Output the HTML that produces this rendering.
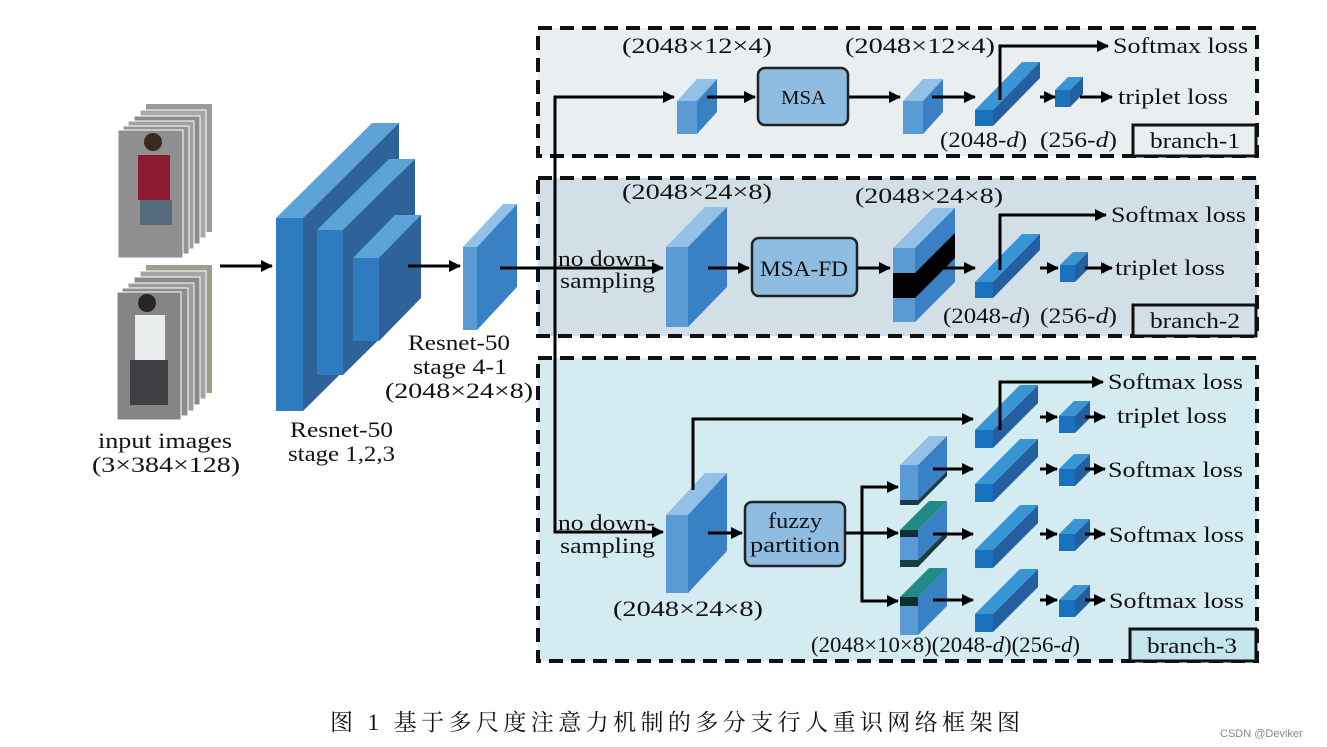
<!DOCTYPE html>
<html><head><meta charset="utf-8"><style>
html,body{margin:0;padding:0;background:#fff;}
svg{display:block;}
text{font-family:"Liberation Serif","Noto Serif CJK SC",serif;fill:#111;}
</style></head><body>
<svg id="s" width="1327" height="747" viewBox="0 0 1327 747" xmlns="http://www.w3.org/2000/svg">
<defs>
<marker id="a" markerWidth="12" markerHeight="12" refX="11" refY="6" orient="auto" markerUnits="userSpaceOnUse"><path d="M0,0 L12,6 L0,12 z" fill="#000"/></marker>
</defs>
<rect x="538" y="28" width="719" height="128" fill="#e9eef1" stroke="#111" stroke-width="4" stroke-dasharray="14,8"/>
<rect x="538" y="178" width="719" height="158" fill="#d3dfe7" stroke="#111" stroke-width="4" stroke-dasharray="14,8"/>
<rect x="538" y="358" width="719" height="303" fill="#d3ebf1" stroke="#111" stroke-width="4" stroke-dasharray="14,8"/>
<rect x="1133" y="125" width="123" height="31" fill="#e9eef1" stroke="#111" stroke-width="3"/>
<rect x="1133" y="305" width="123" height="31" fill="#d3dfe7" stroke="#111" stroke-width="3"/>
<rect x="1130" y="629" width="126" height="32" fill="#c4e5ee" stroke="#111" stroke-width="3"/>
<g font-size="22" lengthAdjust="spacingAndGlyphs">
<text x="1150" y="148" textLength="90" lengthAdjust="spacingAndGlyphs">branch-1</text>
<text x="1150" y="328" textLength="90" lengthAdjust="spacingAndGlyphs">branch-2</text>
<text x="1147" y="653" textLength="90" lengthAdjust="spacingAndGlyphs">branch-3</text>
</g>

<g id="imgs">
<rect x="146" y="104" width="66" height="128" fill="#9a9a9a"/>
<rect x="140" y="110" width="66" height="128" fill="#a8a8a8" stroke="#fff"/>
<rect x="134" y="116" width="66" height="128" fill="#8c8c8c" stroke="#fff"/>
<rect x="128" y="121" width="66" height="128" fill="#a0a0a0" stroke="#fff"/>
<rect x="123" y="126" width="66" height="128" fill="#959595" stroke="#fff"/>
<rect x="118" y="130" width="65" height="128" fill="#8f8f8f" stroke="#fff"/>
<rect x="138" y="155" width="32" height="45" fill="#8b1a2e"/>
<rect x="140" y="200" width="32" height="25" fill="#556a7c"/>
<circle cx="153" cy="142" r="9" fill="#3a2a22"/>
<rect x="146" y="265" width="66" height="128" fill="#9aa08a"/>
<rect x="140" y="271" width="66" height="128" fill="#a5a5a5" stroke="#fff"/>
<rect x="134" y="277" width="66" height="128" fill="#8a8a8a" stroke="#fff"/>
<rect x="128" y="283" width="66" height="128" fill="#9c9c9c" stroke="#fff"/>
<rect x="122" y="288" width="66" height="128" fill="#8d8d8d" stroke="#fff"/>
<rect x="117" y="292" width="64" height="128" fill="#858585" stroke="#fff"/>
<rect x="135" y="315" width="30" height="45" fill="#e8ecec"/>
<rect x="130" y="360" width="38" height="45" fill="#3f3f44"/>
<circle cx="147" cy="303" r="9" fill="#2a2424"/>
</g>

<g id="cubes"></g>

<g stroke="#000" stroke-width="3" fill="none">
<line x1="220" y1="266" x2="272" y2="266" marker-end="url(#a)"/>
<line x1="408" y1="266" x2="460" y2="266" marker-end="url(#a)"/>
<line x1="500" y1="268" x2="663" y2="268" marker-end="url(#a)"/>
<polyline points="555,268 555,97 674,97" marker-end="url(#a)"/>
<polyline points="555,268 555,532 663,532" marker-end="url(#a)"/>
<line x1="707" y1="97" x2="755" y2="97" marker-end="url(#a)"/>
<line x1="848" y1="97" x2="900" y2="97" marker-end="url(#a)"/>
<line x1="932" y1="97" x2="975" y2="97" marker-end="url(#a)"/>
<line x1="1040" y1="97" x2="1055" y2="97" marker-end="url(#a)"/>
<line x1="1080" y1="97" x2="1112" y2="97" marker-end="url(#a)"/>
<polyline points="1000,100 1000,46 1108,46" marker-end="url(#a)"/>
<line x1="708" y1="268" x2="749" y2="268" marker-end="url(#a)"/>
<line x1="857" y1="268" x2="890" y2="268" marker-end="url(#a)"/>
<line x1="930" y1="268" x2="975" y2="268" marker-end="url(#a)"/>
<line x1="1040" y1="268" x2="1058" y2="268" marker-end="url(#a)"/>
<line x1="1085" y1="268" x2="1112" y2="268" marker-end="url(#a)"/>
<polyline points="1000,270 1000,215 1106,215" marker-end="url(#a)"/>
<line x1="708" y1="533" x2="742" y2="533" marker-end="url(#a)"/>
<line x1="845" y1="533" x2="898" y2="533" marker-end="url(#a)"/>
<polyline points="862,533 862,487 898,487" marker-end="url(#a)"/>
<polyline points="862,533 862,601 898,601" marker-end="url(#a)"/>
<polyline points="693,490 693,419 973,419" marker-end="url(#a)"/>
<polyline points="1000,430 1000,382 1103,382" marker-end="url(#a)"/>
<line x1="1040" y1="417" x2="1057" y2="417" marker-end="url(#a)"/>
<line x1="1085" y1="417" x2="1105" y2="417" marker-end="url(#a)"/>
<line x1="933" y1="469" x2="973" y2="469" marker-end="url(#a)"/>
<line x1="1040" y1="469" x2="1057" y2="469" marker-end="url(#a)"/>
<line x1="1085" y1="469" x2="1105" y2="469" marker-end="url(#a)"/>
<line x1="933" y1="534" x2="973" y2="534" marker-end="url(#a)"/>
<line x1="1040" y1="534" x2="1057" y2="534" marker-end="url(#a)"/>
<line x1="1085" y1="534" x2="1105" y2="534" marker-end="url(#a)"/>
<line x1="933" y1="600" x2="973" y2="600" marker-end="url(#a)"/>
<line x1="1040" y1="600" x2="1057" y2="600" marker-end="url(#a)"/>
<line x1="1085" y1="600" x2="1105" y2="600" marker-end="url(#a)"/>
</g>

<rect x="758" y="68" width="90" height="57" rx="7" fill="#8fbde2" stroke="#222" stroke-width="2.5"/>
<rect x="752" y="238" width="105" height="58" rx="7" fill="#8fbde2" stroke="#222" stroke-width="2.5"/>
<rect x="745" y="502" width="100" height="64" rx="7" fill="#8fbde2" stroke="#222" stroke-width="2.5"/>

<g font-size="22">
<text x="781" y="104" textLength="45" lengthAdjust="spacingAndGlyphs" font-size="20">MSA</text>
<text x="760" y="276" textLength="88" lengthAdjust="spacingAndGlyphs">MSA-FD</text>
<text x="768" y="528" textLength="54" lengthAdjust="spacingAndGlyphs">fuzzy</text>
<text x="750" y="552" textLength="90" lengthAdjust="spacingAndGlyphs">partition</text>

<text x="98" y="448" textLength="134" lengthAdjust="spacingAndGlyphs">input images</text>
<text x="92" y="472" textLength="148" lengthAdjust="spacingAndGlyphs">(3×384×128)</text>
<text x="290" y="437" textLength="103" lengthAdjust="spacingAndGlyphs">Resnet-50</text>
<text x="288" y="461" textLength="107" lengthAdjust="spacingAndGlyphs">stage 1,2,3</text>
<text x="408" y="350" textLength="102" lengthAdjust="spacingAndGlyphs">Resnet-50</text>
<text x="413" y="374" textLength="94" lengthAdjust="spacingAndGlyphs">stage 4-1</text>
<text x="385" y="398" textLength="148" lengthAdjust="spacingAndGlyphs">(2048×24×8)</text>

<text x="622" y="53" textLength="150" lengthAdjust="spacingAndGlyphs">(2048×12×4)</text>
<text x="845" y="53" textLength="150" lengthAdjust="spacingAndGlyphs">(2048×12×4)</text>
<text x="1113" y="53" textLength="135" lengthAdjust="spacingAndGlyphs">Softmax loss</text>
<text x="1118" y="104" textLength="110" lengthAdjust="spacingAndGlyphs">triplet loss</text>
<text x="940" y="147" textLength="87" lengthAdjust="spacingAndGlyphs">(2048-<tspan font-style="italic">d</tspan>)</text>
<text x="1040" y="147" textLength="77" lengthAdjust="spacingAndGlyphs">(256-<tspan font-style="italic">d</tspan>)</text>
<text x="622" y="199" textLength="150" lengthAdjust="spacingAndGlyphs">(2048×24×8)</text>
<text x="855" y="203" textLength="148" lengthAdjust="spacingAndGlyphs">(2048×24×8)</text>
<text x="1111" y="222" textLength="135" lengthAdjust="spacingAndGlyphs">Softmax loss</text>
<text x="1115" y="275" textLength="110" lengthAdjust="spacingAndGlyphs">triplet loss</text>
<text x="943" y="323" textLength="87" lengthAdjust="spacingAndGlyphs">(2048-<tspan font-style="italic">d</tspan>)</text>
<text x="1040" y="323" textLength="77" lengthAdjust="spacingAndGlyphs">(256-<tspan font-style="italic">d</tspan>)</text>
<text x="558" y="266" textLength="97" lengthAdjust="spacingAndGlyphs">no down-</text>
<text x="560" y="288" textLength="95" lengthAdjust="spacingAndGlyphs">sampling</text>
<text x="558" y="530" textLength="97" lengthAdjust="spacingAndGlyphs">no down-</text>
<text x="560" y="553" textLength="95" lengthAdjust="spacingAndGlyphs">sampling</text>
<text x="613" y="616" textLength="150" lengthAdjust="spacingAndGlyphs">(2048×24×8)</text>
<text x="1108" y="389" textLength="135" lengthAdjust="spacingAndGlyphs">Softmax loss</text>
<text x="1117" y="423" textLength="110" lengthAdjust="spacingAndGlyphs">triplet loss</text>
<text x="1108" y="477" textLength="135" lengthAdjust="spacingAndGlyphs">Softmax loss</text>
<text x="1109" y="542" textLength="135" lengthAdjust="spacingAndGlyphs">Softmax loss</text>
<text x="1109" y="608" textLength="135" lengthAdjust="spacingAndGlyphs">Softmax loss</text>
<text x="811" y="652" textLength="269" lengthAdjust="spacingAndGlyphs">(2048×10×8)(2048-<tspan font-style="italic">d</tspan>)(256-<tspan font-style="italic">d</tspan>)</text>
</g>
<text x="330" y="730" font-size="23" textLength="690" lengthAdjust="spacing">图 1  基于多尺度注意力机制的多分支行人重识网络框架图</text>
<text x="1220" y="737" font-size="11" style="font-family:'Liberation Sans',sans-serif;fill:#888">CSDN @Deviker</text>
</svg>
<script>
var g=document.getElementById('cubes'),NS='http://www.w3.org/2000/svg';
function P(pts,f){var p=document.createElementNS(NS,'polygon');p.setAttribute('points',pts.map(function(q){return q.join(',')}).join(' '));p.setAttribute('fill',f);g.appendChild(p);}
function cube(x,y,w,h,dx,dy,fr,sd,tp){
P([[x,y],[x+dx,y-dy],[x+w+dx,y-dy],[x+w,y]],tp);
P([[x+w,y],[x+w+dx,y-dy],[x+w+dx,y+h-dy],[x+w,y+h]],sd);
P([[x,y],[x+w,y],[x+w,y+h],[x,y+h]],fr);}
cube(276,218,27,193,96,95,'#2f7bc0','#2e6399','#5ea3d8');
cube(317,230,26,145,72,71,'#2f7bc0','#2e6399','#5ea3d8');
cube(353,258,26,83,42,43,'#2f7bc0','#2e6399','#5ea3d8');
var LF='#5a9bd5',LS='#3a80c4',LT='#93c0e6';
cube(463,247,14,83,40,43,LF,LS,LT);
cube(677,101,20,33,20,22,LF,LS,LT);
cube(903,101,20,33,20,22,LF,LS,LT);
var BF='#1a72be',BS='#2460a0',BT='#3a95d5';
cube(975,110,18,16,47,48,BF,BS,BT);
cube(1055,90,15,17,13,13,BF,BS,BT);
cube(666,247,22,80,39,40,LF,LS,LT);
cube(893,248,22,74,40,40,LF,LS,LT);
P([[893,273],[915,273],[955,233],[955,258],[915,298],[893,298]],'#000');
cube(975,282,18,16,47,48,BF,BS,BT);
cube(1060,265,15,17,13,13,BF,BS,BT);
cube(666,515,22,78,39,42,LF,LS,LT);
[430,484,550,614].forEach(function(y){cube(975,y,18,18,45,45,BF,BS,BT);});
[417,470,535,601].forEach(function(y){cube(1059,y-1,16,17,15,15,BF,BS,BT);});
cube(900,465,18,35,29,29,LF,LS,LT);P([[900,500],[918,500],[947,471],[947,476],[918,505],[900,505]],'#173e44');
cube(900,530,18,30,29,29,LF,LS,'#218a85');P([[900,530],[918,530],[918,537],[900,537]],'#0f2e30');P([[900,560],[918,560],[947,531],[947,537],[918,567],[900,567]],'#173e44');
cube(900,597,18,38,29,29,LF,LS,'#218a85');P([[900,597],[918,597],[918,606],[900,606]],'#0f2e30');
</script>
</body></html>
